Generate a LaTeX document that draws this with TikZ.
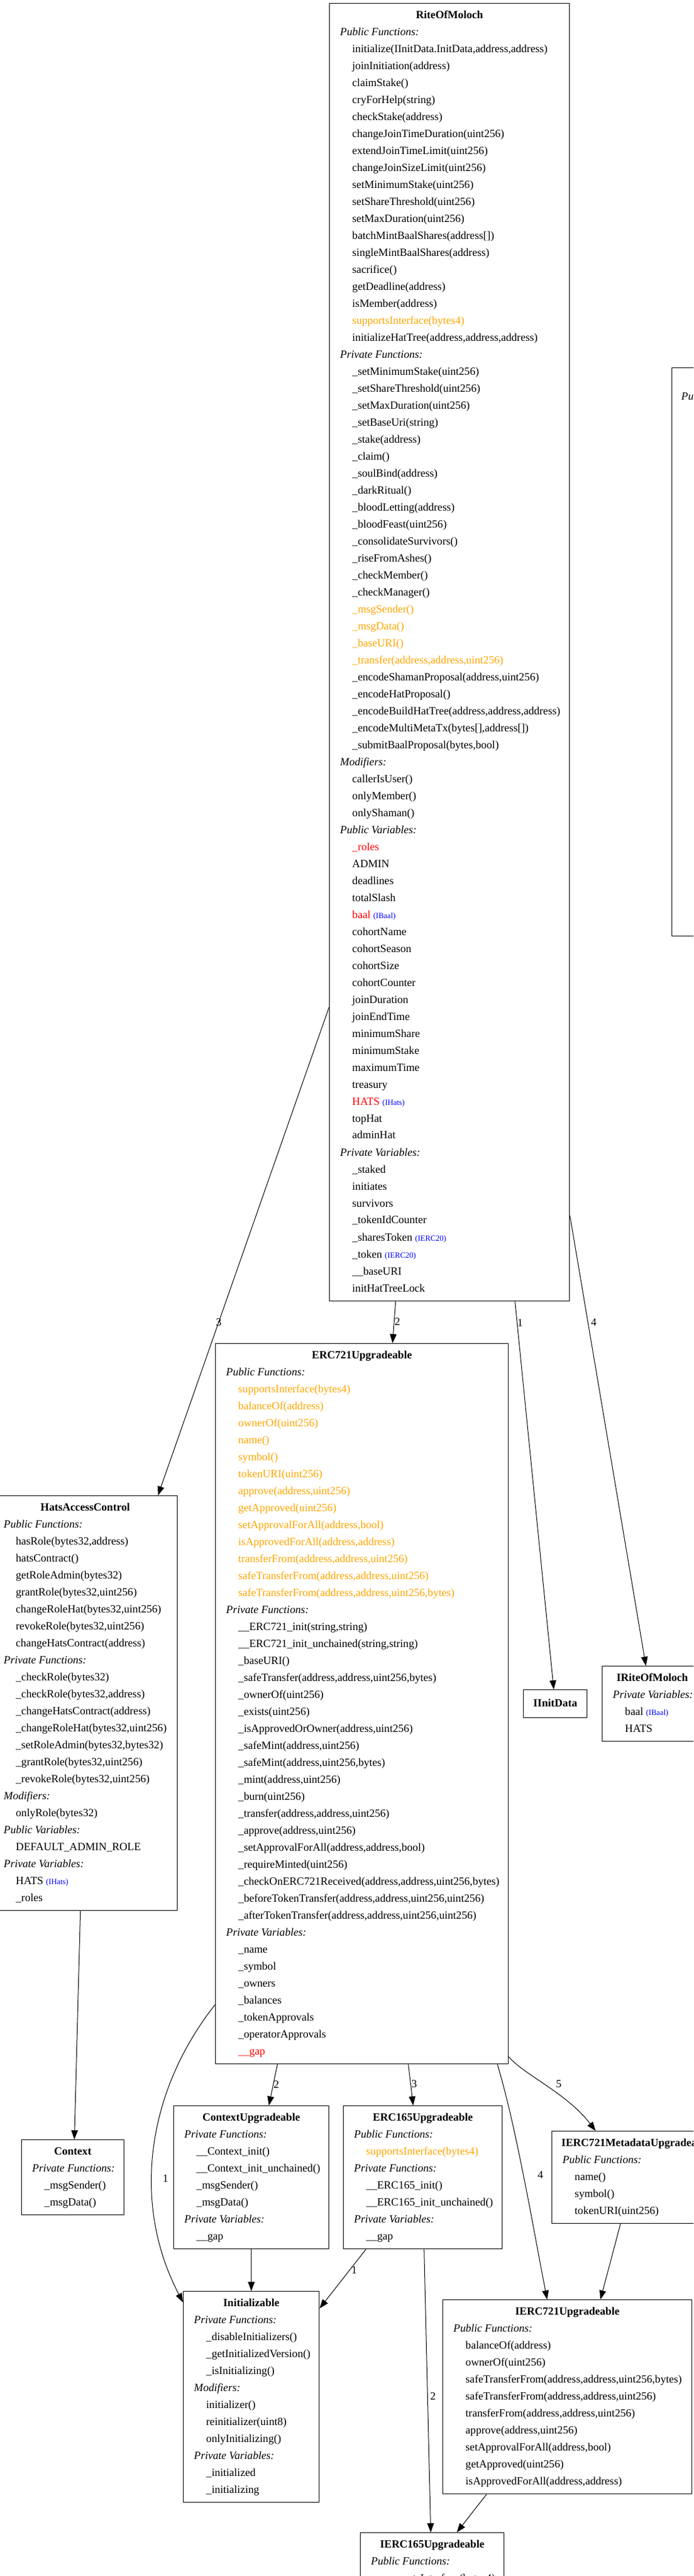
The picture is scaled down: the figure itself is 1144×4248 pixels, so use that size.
\documentclass[tikz,border=0pt]{standalone}
\usepackage{fontspec}
\setmainfont{Liberation Serif}
\usepackage{xcolor}
\usetikzlibrary{arrows.meta}
\definecolor{uml-orange}{RGB}{255, 165, 0}
\definecolor{uml-red}{RGB}{255, 0, 0}
\definecolor{uml-blue}{RGB}{0, 0, 255}
\newcommand{\umlhd}[1]{\textit{#1}}
\newcommand{\umlit}[1]{\hspace*{20pt}#1}
\newcommand{\umlinh}[1]{\hspace*{20pt}\textcolor{uml-orange}{#1}}
\newcommand{\umlvar}[1]{\hspace*{20pt}\textcolor{uml-red}{#1}}
\newcommand{\umltype}[1]{{\fontsize{13}{13}\selectfont\textcolor{uml-blue}{#1}}}
\newcommand{\members}[1]{\begin{tabular}[t]{@{}l@{}}#1\end{tabular}}
\tikzset{
  cls/.style={draw, line width=1.3pt, anchor=north west, inner sep=0pt},
  ttl/.style={anchor=base, inner sep=0pt, font=\fontsize{18.1}{28}\selectfont\bfseries},
  body/.style={anchor=base west, inner sep=0pt, font=\fontsize{18.1}{28}\selectfont},
  dep/.style={line width=1pt, -{Triangle[length=15pt,width=11pt]}},
  lbl/.style={inner sep=0pt, font=\fontsize{18.1}{28}\selectfont},
}
\begin{document}
\begin{tikzpicture}[x=1pt,y=-1pt]
\useasboundingbox (0,0) rectangle (1144,4248);
\clip (0,0) rectangle (1144,4248);
\fill[white] (0,0) rectangle (1144,4248);

\node[cls, minimum width=396pt, minimum height=2140pt] (rite) at (543,5) {};
\node[ttl] (rite-t) at ([yshift=-25pt]rite.north) {RiteOfMoloch};
\node[body] (rite-b) at ([xshift=18pt,yshift=-53pt]rite.north west) {\members{
\umlhd{Public Functions:}\\
\umlit{initialize(IInitData.InitData,address,address)}\\
\umlit{joinInitiation(address)}\\
\umlit{claimStake()}\\
\umlit{cryForHelp(string)}\\
\umlit{checkStake(address)}\\
\umlit{changeJoinTimeDuration(uint256)}\\
\umlit{extendJoinTimeLimit(uint256)}\\
\umlit{changeJoinSizeLimit(uint256)}\\
\umlit{setMinimumStake(uint256)}\\
\umlit{setShareThreshold(uint256)}\\
\umlit{setMaxDuration(uint256)}\\
\umlit{batchMintBaalShares(address[])}\\
\umlit{singleMintBaalShares(address)}\\
\umlit{sacrifice()}\\
\umlit{getDeadline(address)}\\
\umlit{isMember(address)}\\
\umlinh{supportsInterface(bytes4)}\\
\umlit{initializeHatTree(address,address,address)}\\
\umlhd{Private Functions:}\\
\umlit{\_setMinimumStake(uint256)}\\
\umlit{\_setShareThreshold(uint256)}\\
\umlit{\_setMaxDuration(uint256)}\\
\umlit{\_setBaseUri(string)}\\
\umlit{\_stake(address)}\\
\umlit{\_claim()}\\
\umlit{\_soulBind(address)}\\
\umlit{\_darkRitual()}\\
\umlit{\_bloodLetting(address)}\\
\umlit{\_bloodFeast(uint256)}\\
\umlit{\_consolidateSurvivors()}\\
\umlit{\_riseFromAshes()}\\
\umlit{\_checkMember()}\\
\umlit{\_checkManager()}\\
\umlinh{\_msgSender()}\\
\umlinh{\_msgData()}\\
\umlinh{\_baseURI()}\\
\umlinh{\_transfer(address,address,uint256)}\\
\umlit{\_encodeShamanProposal(address,uint256)}\\
\umlit{\_encodeHatProposal()}\\
\umlit{\_encodeBuildHatTree(address,address,address)}\\
\umlit{\_encodeMultiMetaTx(bytes[],address[])}\\
\umlit{\_submitBaalProposal(bytes,bool)}\\
\umlhd{Modifiers:}\\
\umlit{callerIsUser()}\\
\umlit{onlyMember()}\\
\umlit{onlyShaman()}\\
\umlhd{Public Variables:}\\
\umlvar{\_roles}\\
\umlit{ADMIN}\\
\umlit{deadlines}\\
\umlit{totalSlash}\\
\umlvar{baal} \umltype{(IBaal)}\\
\umlit{cohortName}\\
\umlit{cohortSeason}\\
\umlit{cohortSize}\\
\umlit{cohortCounter}\\
\umlit{joinDuration}\\
\umlit{joinEndTime}\\
\umlit{minimumShare}\\
\umlit{minimumStake}\\
\umlit{maximumTime}\\
\umlit{treasury}\\
\umlvar{HATS} \umltype{(IHats)}\\
\umlit{topHat}\\
\umlit{adminHat}\\
\umlhd{Private Variables:}\\
\umlit{\_staked}\\
\umlit{initiates}\\
\umlit{survivors}\\
\umlit{\_tokenIdCounter}\\
\umlit{\_sharesToken \umltype{(IERC20)}}\\
\umlit{\_token \umltype{(IERC20)}}\\
\umlit{\_\_baseURI}\\
\umlit{initHatTreeLock}}};

\node[cls, minimum width=300pt, minimum height=937pt] (cut) at (1108,606) {};
\node[body] (cut-b) at ([xshift=16pt,yshift=-53pt]cut.north west) {\members{\umlhd{Public Functions:}}};

\node[cls, minimum width=304pt, minimum height=684pt] (hats) at (-12,2466) {};
\node[ttl] (hats-t) at ([yshift=-25pt]hats.north) {HatsAccessControl};
\node[body] (hats-b) at ([xshift=18pt,yshift=-53pt]hats.north west) {\members{
\umlhd{Public Functions:}\\
\umlit{hasRole(bytes32,address)}\\
\umlit{hatsContract()}\\
\umlit{getRoleAdmin(bytes32)}\\
\umlit{grantRole(bytes32,uint256)}\\
\umlit{changeRoleHat(bytes32,uint256)}\\
\umlit{revokeRole(bytes32,uint256)}\\
\umlit{changeHatsContract(address)}\\
\umlhd{Private Functions:}\\
\umlit{\_checkRole(bytes32)}\\
\umlit{\_checkRole(bytes32,address)}\\
\umlit{\_changeHatsContract(address)}\\
\umlit{\_changeRoleHat(bytes32,uint256)}\\
\umlit{\_setRoleAdmin(bytes32,bytes32)}\\
\umlit{\_grantRole(bytes32,uint256)}\\
\umlit{\_revokeRole(bytes32,uint256)}\\
\umlhd{Modifiers:}\\
\umlit{onlyRole(bytes32)}\\
\umlhd{Public Variables:}\\
\umlit{DEFAULT\_ADMIN\_ROLE}\\
\umlhd{Private Variables:}\\
\umlit{HATS \umltype{(IHats)}}\\
\umlit{\_roles}}};

\node[cls, minimum width=483pt, minimum height=1188pt] (erc721) at (355,2215) {};
\node[ttl] (erc721-t) at ([yshift=-25pt]erc721.north) {ERC721Upgradeable};
\node[body] (erc721-b) at ([xshift=18pt,yshift=-53pt]erc721.north west) {\members{
\umlhd{Public Functions:}\\
\umlinh{supportsInterface(bytes4)}\\
\umlinh{balanceOf(address)}\\
\umlinh{ownerOf(uint256)}\\
\umlinh{name()}\\
\umlinh{symbol()}\\
\umlinh{tokenURI(uint256)}\\
\umlinh{approve(address,uint256)}\\
\umlinh{getApproved(uint256)}\\
\umlinh{setApprovalForAll(address,bool)}\\
\umlinh{isApprovedForAll(address,address)}\\
\umlinh{transferFrom(address,address,uint256)}\\
\umlinh{safeTransferFrom(address,address,uint256)}\\
\umlinh{safeTransferFrom(address,address,uint256,bytes)}\\
\umlhd{Private Functions:}\\
\umlit{\_\_ERC721\_init(string,string)}\\
\umlit{\_\_ERC721\_init\_unchained(string,string)}\\
\umlit{\_baseURI()}\\
\umlit{\_safeTransfer(address,address,uint256,bytes)}\\
\umlit{\_ownerOf(uint256)}\\
\umlit{\_exists(uint256)}\\
\umlit{\_isApprovedOrOwner(address,uint256)}\\
\umlit{\_safeMint(address,uint256)}\\
\umlit{\_safeMint(address,uint256,bytes)}\\
\umlit{\_mint(address,uint256)}\\
\umlit{\_burn(uint256)}\\
\umlit{\_transfer(address,address,uint256)}\\
\umlit{\_approve(address,uint256)}\\
\umlit{\_setApprovalForAll(address,address,bool)}\\
\umlit{\_requireMinted(uint256)}\\
\umlit{\_checkOnERC721Received(address,address,uint256,bytes)}\\
\umlit{\_beforeTokenTransfer(address,address,uint256,uint256)}\\
\umlit{\_afterTokenTransfer(address,address,uint256,uint256)}\\
\umlhd{Private Variables:}\\
\umlit{\_name}\\
\umlit{\_symbol}\\
\umlit{\_owners}\\
\umlit{\_balances}\\
\umlit{\_tokenApprovals}\\
\umlit{\_operatorApprovals}\\
\umlvar{\_\_gap}}};

\node[cls, minimum width=105pt, minimum height=46pt] (iinit) at (863,2786) {};
\node[ttl] (iinit-t) at ([yshift=-28pt]iinit.north) {IInitData};

\node[cls, minimum width=165pt, minimum height=124pt] (irite) at (993,2747) {};
\node[ttl] (irite-t) at ([yshift=-25pt]irite.north) {IRiteOfMoloch};
\node[body] (irite-b) at ([xshift=18pt,yshift=-53pt]irite.north west) {\members{
\umlhd{Private Variables:}\\
\umlit{baal \umltype{(IBaal)}}\\
\umlit{HATS}}};

\node[cls, minimum width=169pt, minimum height=124pt] (context) at (35,3528) {};
\node[ttl] (context-t) at ([yshift=-25pt]context.north) {Context};
\node[body] (context-b) at ([xshift=18pt,yshift=-53pt]context.north west) {\members{
\umlhd{Private Functions:}\\
\umlit{\_msgSender()}\\
\umlit{\_msgData()}}};

\node[cls, minimum width=256pt, minimum height=236pt] (ctxup) at (286,3472) {};
\node[ttl] (ctxup-t) at ([yshift=-25pt]ctxup.north) {ContextUpgradeable};
\node[body] (ctxup-b) at ([xshift=18pt,yshift=-53pt]ctxup.north west) {\members{
\umlhd{Private Functions:}\\
\umlit{\_\_Context\_init()}\\
\umlit{\_\_Context\_init\_unchained()}\\
\umlit{\_msgSender()}\\
\umlit{\_msgData()}\\
\umlhd{Private Variables:}\\
\umlit{\_\_gap}}};

\node[cls, minimum width=262pt, minimum height=236pt] (erc165) at (566,3472) {};
\node[ttl] (erc165-t) at ([yshift=-25pt]erc165.north) {ERC165Upgradeable};
\node[body] (erc165-b) at ([xshift=18pt,yshift=-53pt]erc165.north west) {\members{
\umlhd{Public Functions:}\\
\umlinh{supportsInterface(bytes4)}\\
\umlhd{Private Functions:}\\
\umlit{\_\_ERC165\_init()}\\
\umlit{\_\_ERC165\_init\_unchained()}\\
\umlhd{Private Variables:}\\
\umlit{\_\_gap}}};

\node[cls, minimum width=278pt, minimum height=152pt] (imeta) at (910,3514) {};
\node[ttl] (imeta-t) at ([yshift=-25pt]imeta.north) {IERC721MetadataUpgradeable};
\node[body] (imeta-b) at ([xshift=18pt,yshift=-53pt]imeta.north west) {\members{
\umlhd{Public Functions:}\\
\umlit{name()}\\
\umlit{symbol()}\\
\umlit{tokenURI(uint256)}}};

\node[cls, minimum width=224pt, minimum height=348pt] (init) at (302,3778) {};
\node[ttl] (init-t) at ([yshift=-25pt]init.north) {Initializable};
\node[body] (init-b) at ([xshift=18pt,yshift=-53pt]init.north west) {\members{
\umlhd{Private Functions:}\\
\umlit{\_disableInitializers()}\\
\umlit{\_getInitializedVersion()}\\
\umlit{\_isInitializing()}\\
\umlhd{Modifiers:}\\
\umlit{initializer()}\\
\umlit{reinitializer(uint8)}\\
\umlit{onlyInitializing()}\\
\umlhd{Private Variables:}\\
\umlit{\_initialized}\\
\umlit{\_initializing}}};

\node[cls, minimum width=411pt, minimum height=320pt] (ierc721) at (730,3792) {};
\node[ttl] (ierc721-t) at ([yshift=-25pt]ierc721.north) {IERC721Upgradeable};
\node[body] (ierc721-b) at ([xshift=18pt,yshift=-53pt]ierc721.north west) {\members{
\umlhd{Public Functions:}\\
\umlit{balanceOf(address)}\\
\umlit{ownerOf(uint256)}\\
\umlit{safeTransferFrom(address,address,uint256,bytes)}\\
\umlit{safeTransferFrom(address,address,uint256)}\\
\umlit{transferFrom(address,address,uint256)}\\
\umlit{approve(address,uint256)}\\
\umlit{setApprovalForAll(address,bool)}\\
\umlit{getApproved(uint256)}\\
\umlit{isApprovedForAll(address,address)}}};

\node[cls, minimum width=237pt, minimum height=124pt] (ierc165) at (594,4176) {};
\node[ttl] (ierc165-t) at ([yshift=-25pt]ierc165.north) {IERC165Upgradeable};
\node[body] (ierc165-b) at ([xshift=18pt,yshift=-53pt]ierc165.north west) {\members{
\umlhd{Public Functions:}\\
\umlit{supportsInterface(bytes4)}}};

\draw[dep] ([yshift=-585pt]rite.west) -- node[lbl, pos=0.645] (l-hats) {3} ([xshift=120pt]hats.north);
\draw[dep] ([xshift=-89pt]rite.south) -- node[lbl, pos=0.49, anchor=west, xshift=0.5pt] (l-erc721) {2} ([xshift=50.5pt]erc721.north);
\draw[dep] ([xshift=108pt]rite.south) -- node[lbl, pos=0.055, anchor=west] (l-iinit) {1} ([xshift=-2.5pt]iinit.north);
\draw[dep] ([yshift=-929pt]rite.east) -- node[lbl, pos=0.2375, anchor=west, xshift=4.5pt] (l-irite) {4} ([xshift=-10.5pt]irite.north);
\draw[dep] ([xshift=-139.5pt]erc721.south) -- node[lbl, pos=0.485, anchor=west] (l-ctxup) {2} ([xshift=29pt]ctxup.north);
\draw[dep] ([xshift=76.5pt]erc721.south) -- node[lbl, pos=0.47, anchor=west, xshift=1pt] (l-erc165) {3} ([xshift=-16pt]erc165.north);
\draw[dep] ([xshift=223.5pt]erc721.south) .. controls +(30,100) and +(-25,-130) .. node[lbl, pos=0.5, anchor=west, xshift=23pt] (l-ierc721) {4} ([xshift=-33.5pt]ierc721.north);
\draw[dep] ([yshift=-582pt]erc721.east) .. controls +(24,29) and +(-47,-62) .. node[lbl, pos=0.6, anchor=south, xshift=3pt, yshift=9pt] (l-imeta) {5} ([xshift=-67pt]imeta.north);
\draw[dep] ([yshift=-496pt]erc721.west) .. controls +(-111,140) and +(-87,-166) .. node[lbl, pos=0.6, anchor=west, xshift=17pt] (l-init) {1} ([yshift=156pt]init.west);
\draw[dep] ([xshift=-94pt]erc165.south) -- node[lbl, pos=0.35, anchor=west, xshift=2.5pt] (l-init2) {1} ([yshift=146pt]init.east);
\draw[dep] ([xshift=2pt]erc165.south) -- node[lbl, pos=0.518, anchor=west, xshift=4pt] (l-ierc165) {2} ([xshift=-2.5pt]ierc165.north);
\draw[dep] (ctxup.south) -- (init.north);
\draw[dep] ([xshift=-8pt]hats.south) -- ([xshift=2.5pt]context.north);
\draw[dep] ([xshift=-26pt]imeta.south) -- ([xshift=54.5pt]ierc721.north);
\draw[dep] ([xshift=-133.5pt]ierc721.south) -- ([xshift=40.5pt]ierc165.north);
\end{tikzpicture}
\end{document}
